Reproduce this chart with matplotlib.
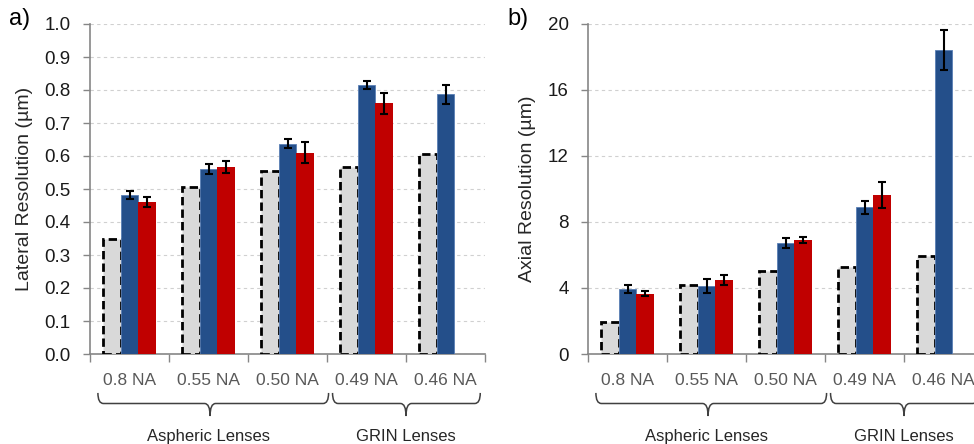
import matplotlib
matplotlib.use("Agg")
import matplotlib.pyplot as plt
from matplotlib.path import Path
from matplotlib.patches import PathPatch
from matplotlib.ticker import FormatStrFormatter
import numpy as np

plt.rcParams['font.family'] = ['Liberation Sans', 'DejaVu Sans']

# === Data ===
categories = ["0.8 NA", "0.55 NA", "0.50 NA", "0.49 NA", "0.46 NA"]
groups = ["Aspheric Lenses", "GRIN Lenses"]

lat_theory = [0.350, 0.505, 0.555, 0.568, 0.607]
lat_blue = [0.482, 0.561, 0.637, 0.815, 0.787]
lat_blue_err = [0.013, 0.016, 0.013, 0.013, 0.028]
lat_red = [0.460, 0.567, 0.610, 0.760, np.nan]
lat_red_err = [0.015, 0.018, 0.032, 0.032, 0.0]

ax_theory = [1.95, 4.18, 5.05, 5.25, 5.95]
ax_blue = [3.92, 4.12, 6.75, 8.89, 18.42]
ax_blue_err = [0.25, 0.40, 0.30, 0.40, 1.20]
ax_red = [3.66, 4.48, 6.90, 9.64, np.nan]
ax_red_err = [0.15, 0.30, 0.20, 0.80, 0.0]

GRAY = "#d9d9d9"
BLUE = "#244f8a"
RED = "#c00000"
AXC = "#868686"


def brace(ax, x0, x1, xm, r=0.07, y_top=-0.118, y_base=-0.150, y_tip=-0.188):
    # curly bracket below the axis, x in data, y in axes fraction
    verts = [(x0, y_top), (x0, y_base), (x0 + r, y_base),
             (xm - r, y_base),
             (xm, y_base), (xm, y_tip),
             (xm, y_base), (xm + r, y_base),
             (x1 - r, y_base),
             (x1, y_base), (x1, y_top)]
    codes = [Path.MOVETO, Path.CURVE3, Path.CURVE3,
             Path.LINETO,
             Path.CURVE3, Path.CURVE3,
             Path.CURVE3, Path.CURVE3,
             Path.LINETO,
             Path.CURVE3, Path.CURVE3]
    p = PathPatch(Path(verts, codes), transform=ax.get_xaxis_transform(),
                  fill=False, edgecolor="#404040", linewidth=1.1, clip_on=False)
    ax.add_patch(p)


def draw_panel(ax, theory, blue, blue_err, red, red_err, ylim, yticks, fmt, ylabel):
    x = np.arange(len(categories))
    w = 0.22
    ax.bar(x - w, theory, w, color=GRAY, edgecolor="black", linestyle=(0, (3, 1.5)),
           linewidth=2.0, zorder=3)
    ax.bar(x, blue, w, color=BLUE, edgecolor="#5a7fb5", linewidth=0.6, zorder=3)
    ax.bar(x + w, red, w, color=RED, edgecolor="none", zorder=3)
    ax.errorbar(x, blue, yerr=blue_err, fmt="none", ecolor="black",
                elinewidth=1.5, capsize=3, capthick=1.5, zorder=4)
    rx = [xi + w for xi, v in zip(x, red) if not np.isnan(v)]
    rv = [v for v in red if not np.isnan(v)]
    re = [e for e, v in zip(red_err, red) if not np.isnan(v)]
    ax.errorbar(rx, rv, yerr=re, fmt="none", ecolor="black",
                elinewidth=1.5, capsize=3, capthick=1.5, zorder=4)

    ax.set_xlim(-0.5, len(categories) - 0.5)
    ax.set_ylim(*ylim)
    ax.set_yticks(yticks)
    ax.yaxis.set_major_formatter(FormatStrFormatter(fmt))
    ax.set_xticks(x)
    ax.set_xticklabels(categories, fontsize=12.5, color="#595959")
    ax.set_xticks(np.arange(-0.5, len(categories)), minor=True)
    ax.tick_params(axis="x", which="major", length=0, pad=14)
    ax.tick_params(axis="x", which="minor", length=6, color=AXC, width=1)
    ax.tick_params(axis="y", length=5, color=AXC, width=1, labelsize=13.5,
                   pad=9, labelcolor="#1a1a1a")
    for s in ["top", "right"]:
        ax.spines[s].set_visible(False)
    for s in ["left", "bottom"]:
        ax.spines[s].set_color(AXC)
        ax.spines[s].set_linewidth(1.2)
    ax.yaxis.grid(True, linestyle=(0, (3, 3)), color="#d0d0d0", linewidth=0.8)
    ax.set_axisbelow(True)
    ax.set_ylabel(ylabel, fontsize=14, color="#262626", labelpad=8)

    brace(ax, -0.40, 2.52, 1.02)
    brace(ax, 2.57, 4.44, 3.5)
    ax.text(1.0, -0.25, groups[0], transform=ax.get_xaxis_transform(),
            ha="center", va="center", fontsize=12, color="#262626")
    ax.text(3.5, -0.25, groups[1], transform=ax.get_xaxis_transform(),
            ha="center", va="center", fontsize=12, color="#262626")


fig = plt.figure(figsize=(9.74, 4.44), dpi=100)
ax1 = fig.add_axes([90 / 974, 90 / 444, 395 / 974, 330 / 444])
ax2 = fig.add_axes([588 / 974, 90 / 444, 395 / 974, 330 / 444])

draw_panel(ax1, lat_theory, lat_blue, lat_blue_err, lat_red, lat_red_err,
           (0, 1.0), np.arange(0, 1.01, 0.1), "%.1f", "Lateral Resolution (µm)")
draw_panel(ax2, ax_theory, ax_blue, ax_blue_err, ax_red, ax_red_err,
           (0, 20), np.arange(0, 21, 4), "%d", "Axial Resolution (µm)")

fig.text(9 / 974, 1 - 19 / 444, "a)", fontsize=17, va="center", ha="left")
fig.text(507 / 974, 1 - 19 / 444, "b)", fontsize=17, va="center", ha="left")

fig.savefig("out.png", dpi=100)
